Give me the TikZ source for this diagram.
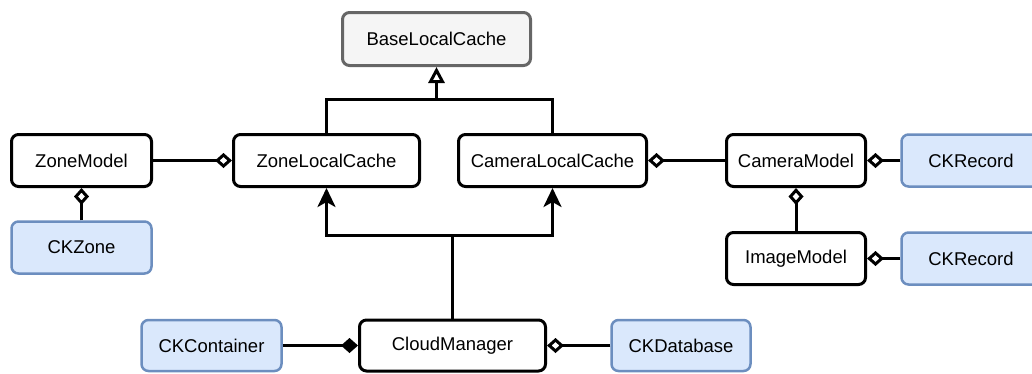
\documentclass[tikz,border=0pt]{standalone}
\usepackage{fontspec}
\setmainfont{Liberation Sans}
\usetikzlibrary{arrows.meta}

\definecolor{ckfill}{HTML}{DAE8FC}
\definecolor{ckdraw}{HTML}{6C8EBF}
\definecolor{basefill}{HTML}{F5F5F5}
\definecolor{basedraw}{HTML}{666666}

\begin{document}
\begin{tikzpicture}[x=1pt, y=-1pt,
  cls/.style={rectangle, rounded corners=7pt, draw, line width=3pt, fill=white,
    minimum width=139pt, minimum height=52pt, inner sep=0pt,
    font=\fontsize{18.5}{22}\selectfont},
  ckbox/.style={cls, draw=ckdraw, fill=ckfill, line width=2.5pt},
  basebox/.style={cls, draw=basedraw, fill=basefill},
  assoc/.style={line width=3pt},
  agg/.style={assoc, -{Diamond[open,length=17pt,width=15pt]}},
  comp/.style={assoc, -{Diamond[length=17pt,width=15pt]}},
  uses/.style={assoc, -{Stealth[length=19pt,width=18pt,inset=5pt]}},
  inherit/.style={assoc, -{Triangle[open,length=16pt,width=16pt]}}
]
\clip (0,0) rectangle (1032,373);

% classes
\node[basebox, minimum width=188pt, minimum height=53pt] (blc) at (436.5,39) {BaseLocalCache};

\node[cls, minimum width=140pt] (zm)  at (81.5,160.5)  {ZoneModel};
\node[cls, minimum width=186pt] (zlc) at (326.5,160.5) {ZoneLocalCache};
\node[cls, minimum width=188pt] (clc) at (552.5,160.5) {CameraLocalCache};
\node[cls]                      (cam) at (796,160.5)   {CameraModel};
\node[cls]                      (img) at (796,258.5)   {ImageModel};
\node[cls, minimum width=186pt, minimum height=51pt] (cld) at (452.5,345.5) {CloudManager};

% cloudkit
\node[ckbox, minimum width=140pt] (ckz)  at (81.5,247.5) {CKZone};
\node[ckbox]                      (rec1) at (971,160.5)  {CKRecord};
\node[ckbox]                      (rec2) at (971,258.5)  {CKRecord};
\node[ckbox, minimum width=140pt, minimum height=51pt] (ckc) at (211.5,345.5) {CKContainer};
\node[ckbox, minimum height=51pt] (ckd) at (681,345.5) {CKDatabase};

\coordinate (top) at (436.5,99);
\coordinate (jn)  at (452.5,235);

% inheritance
\draw[assoc] (zlc.north) |- (top);
\draw[assoc] (clc.north) |- (top);
\draw[inherit] (top) -- (blc.south);

% dependencies
\draw[assoc] (cld.north) -- (jn);
\draw[uses] (jn) -| (zlc.south);
\draw[uses] (jn) -| (clc.south);

% aggregation
\draw[agg] (zm.east) -- (zlc.west);
\draw[agg] (ckz.north) -- (zm.south);
\draw[agg] (cam.west) -- (clc.east);
\draw[agg] (rec1.west) -- (cam.east);
\draw[agg] (img.north) -- (cam.south);
\draw[agg] (rec2.west) -- (img.east);
\draw[comp] (ckc.east) -- (cld.west);
\draw[agg] (ckd.west) -- (cld.east);

\end{tikzpicture}
\end{document}
